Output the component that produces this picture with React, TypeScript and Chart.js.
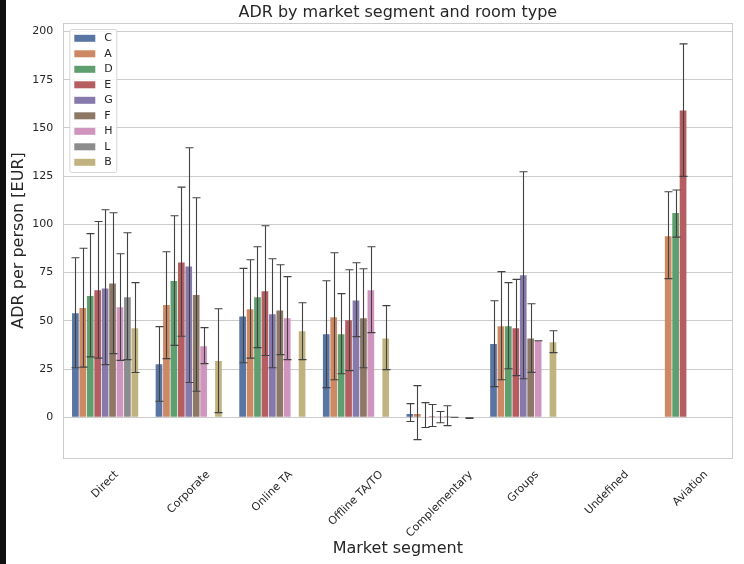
import { useEffect, useRef } from "react"
import { Chart, registerables } from "chart.js"

Chart.register(...registerables)

const FONT = "'DejaVu Sans', sans-serif"
const TEXT = "#262626"

const categories = ["Direct", "Corporate", "Online TA", "Offline TA/TO", "Complementary", "Groups", "Undefined", "Aviation"]
const roomTypes = ["C", "A", "D", "E", "G", "F", "H", "L", "B"]
const roomColors = ["#5975a4", "#cc8963", "#5f9e6e", "#b55d60", "#857aab", "#8d7866", "#d095bf", "#8c8c8c", "#c1b37f"]
const yTickValues = [0, 25, 50, 75, 100, 125, 150, 175, 200]

// mean ADR per room type, one value per market segment
const meanC = [54, 27.5, 52.3, 43, 1.7, 38, null, null]
const meanA = [56.6, 58.2, 56, 51.8, 1.7, 47.2, null, 93.8]
const meanD = [62.9, 70.6, 62.2, 43, 0.3, 47.2, null, 105.9]
const meanE = [65.8, 80.3, 65.3, 50.3, 0.5, 46.1, null, 159]
const meanG = [66.8, 78.2, 53.4, 60.6, 0.2, 73.6, null, null]
const meanF = [69.4, 63.4, 55.4, 51.3, 0.5, 40.9, null, null]
const meanH = [57, 36.8, 51.3, 65.8, 0, 39.7, null, null]
const meanL = [62.2, null, null, null, null, null, null, null]
const meanB = [46.1, 29.2, 44.6, 40.9, -0.4, 38.9, null, null]

// confidence interval [low, high] per market segment
const ciC = [[25.7, 82.7], [8.3, 47], [28.3, 77.2], [15.4, 70.8], [-2.2, 7.1], [15.9, 60.4], null, null]
const ciA = [[26, 87.6], [30.4, 85.8], [30.7, 81.7], [19.5, 85.3], [-11.6, 16.4], [19.5, 75.5], null, [71.9, 116.9]]
const ciD = [[31.3, 95.2], [37.3, 104.5], [36.1, 88.4], [22.6, 64.1], [-5.3, 7.6], [25.2, 69.8], null, [93.4, 117.8]]
const ciE = [[30.7, 101.5], [42, 119.3], [32, 99.3], [24.2, 76.5], [-4.8, 6.6], [21.6, 71.5], null, [124.9, 193.6]]
const ciG = [[27.3, 107.6], [18, 139.7], [25.7, 82.2], [41.8, 80.1], [-2.8, 3], [20, 127.3], null, null]
const ciF = [[33, 106], [13.5, 113.8], [32.5, 79.1], [25.7, 77], [-4.3, 6], [23.3, 58.9], null, null]
const ciH = [[29.5, 84.8], [27.8, 46.5], [29.9, 72.9], [43.9, 88.4], [0, 0], [39.7, 39.7], null, null]
const ciL = [[29.9, 95.7], null, null, null, null, null, null, null]
const ciB = [[23.2, 69.8], [2.4, 56.3], [29.9, 59.4], [24.7, 57.9], [-0.6, -0.2], [33.5, 44.9], null, null]

const means = [meanC, meanA, meanD, meanE, meanG, meanF, meanH, meanL, meanB]
const cis = [ciC, ciA, ciD, ciE, ciG, ciF, ciH, ciL, ciB]

const Y_MIN = -21.1
const Y_MAX = 204.4

const decorPlugin = {
  id: "decor",
  beforeDraw(chart: any) {
    const ctx = chart.ctx
    ctx.save()
    ctx.fillStyle = "#ffffff"
    ctx.fillRect(0, 0, chart.width, chart.height)
    ctx.restore()
  },
  afterDatasetsDraw(chart: any) {
    const ctx = chart.ctx
    const y = chart.scales.y
    ctx.save()
    ctx.strokeStyle = "#424242"
    ctx.lineWidth = 1.1
    chart.data.datasets.forEach((ds: any, i: number) => {
      const meta = chart.getDatasetMeta(i)
      meta.data.forEach((bar: any, j: number) => {
        const ci = ds.ci[j]
        if (!ci || ds.data[j] === null) return
        const x = Math.round(bar.x) + 0.5
        const lo = y.getPixelForValue(ci[0])
        const hi = y.getPixelForValue(ci[1])
        ctx.beginPath()
        ctx.moveTo(x, lo)
        ctx.lineTo(x, hi)
        ctx.moveTo(x - 4, lo)
        ctx.lineTo(x + 4, lo)
        ctx.moveTo(x - 4, hi)
        ctx.lineTo(x + 4, hi)
        ctx.stroke()
      })
    })
    ctx.restore()
  },
  afterDraw(chart: any) {
    const ctx = chart.ctx
    const area = chart.chartArea
    const xs = chart.scales.x
    ctx.save()

    // frame
    ctx.strokeStyle = "#cccccc"
    ctx.lineWidth = 1
    ctx.strokeRect(Math.round(area.left) + 0.5, Math.round(area.top) + 0.5, Math.round(area.right - area.left), Math.round(area.bottom - area.top))

    // rotated category labels, centred on their ticks
    ctx.fillStyle = TEXT
    ctx.font = `11px ${FONT}`
    ctx.textAlign = "center"
    ctx.textBaseline = "middle"
    categories.forEach((label, i) => {
      const w = ctx.measureText(label).width
      const half = ((w + 11) * Math.SQRT1_2) / 2
      const x = xs.getPixelForValue(i)
      ctx.save()
      ctx.translate(x, area.bottom + 11 + half)
      ctx.rotate(-Math.PI / 4)
      ctx.fillText(label, 0, 0)
      ctx.restore()
    })

    // legend box in the upper left
    const lx = area.left + 6
    const ly = area.top + 6
    ctx.fillStyle = "rgba(255,255,255,0.85)"
    ctx.strokeStyle = "#d6d6d6"
    ctx.beginPath()
    ctx.roundRect(lx + 0.5, ly + 0.5, 47, 143, 2)
    ctx.fill()
    ctx.stroke()
    ctx.textAlign = "left"
    roomTypes.forEach((rt, i) => {
      const cy = ly + 9.3 + i * 15.5
      ctx.fillStyle = roomColors[i]
      ctx.fillRect(lx + 5, cy - 3.5, 21, 7)
      ctx.fillStyle = TEXT
      ctx.fillText(rt, lx + 35, cy)
    })

    // dark strip along the left edge
    ctx.fillStyle = "#111111"
    ctx.fillRect(0, 0, 6, chart.height)
    ctx.restore()
  },
}

export default function App() {
  const chartRef = useRef<HTMLCanvasElement>(null)
  const chartInstance = useRef<Chart | null>(null)

  useEffect(() => {
    document.body.style.margin = "0"
    if (!chartRef.current) return
    if (chartInstance.current) chartInstance.current.destroy()

    chartInstance.current = new Chart(chartRef.current, {
      type: "bar",
      data: {
        labels: categories,
        datasets: roomTypes.map((rt, i) => ({
          label: rt,
          data: means[i],
          ci: cis[i],
          backgroundColor: roomColors[i],
          borderWidth: 0,
          categoryPercentage: 0.8,
          barPercentage: 0.9,
        })) as any,
      },
      options: {
        responsive: false,
        animation: false,
        layout: { padding: { left: 6, right: 11.7, top: 0, bottom: 0 } },
        plugins: {
          legend: { display: false },
          tooltip: { enabled: false },
          title: {
            display: true,
            text: "ADR by market segment and room type",
            color: TEXT,
            fullSize: false,
            font: { family: FONT, size: 16, weight: "normal" },
            padding: { top: 3, bottom: 0.8 },
          },
        },
        scales: {
          x: {
            grid: { display: false },
            border: { display: false },
            ticks: { display: false },
            title: {
              display: true,
              text: "Market segment",
              color: TEXT,
              font: { family: FONT, size: 16 },
              padding: { top: 0, bottom: 5.4 },
            },
            afterFit: (scale: any) => {
              scale.height = 106
            },
          },
          y: {
            min: Y_MIN,
            max: Y_MAX,
            grid: { color: "#cccccc", lineWidth: 1, drawTicks: false },
            border: { display: false },
            ticks: {
              padding: 10,
              color: TEXT,
              font: { family: FONT, size: 11 },
            },
            afterBuildTicks: (scale: any) => {
              scale.ticks = yTickValues.map((v) => ({ value: v }))
            },
            title: {
              display: true,
              text: "ADR per person [EUR]",
              color: TEXT,
              font: { family: FONT, size: 16 },
              padding: { top: 3.4, bottom: 0 },
            },
            afterFit: (scale: any) => {
              scale.width = 57.3
            },
          },
        },
      },
      plugins: [decorPlugin],
    })

    return () => {
      if (chartInstance.current) {
        chartInstance.current.destroy()
        chartInstance.current = null
      }
    }
  }, [])

  return (
    <div style={{ width: 744, height: 564, position: "relative" }}>
      <canvas ref={chartRef} width={744} height={564}></canvas>
    </div>
  )
}
